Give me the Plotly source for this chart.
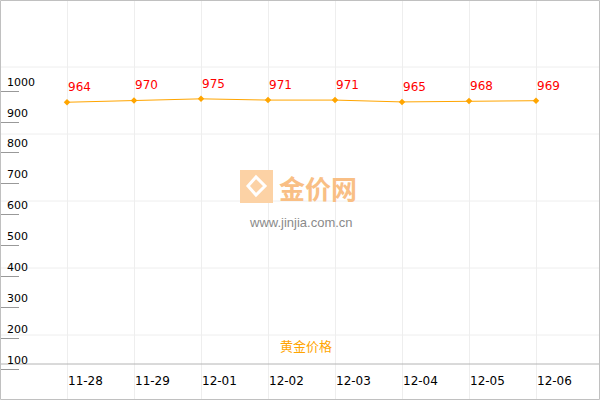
import plotly.graph_objects as go

dates = ["11-28", "11-29", "12-01", "12-02", "12-03", "12-04", "12-05", "12-06"]
prices = [964, 970, 975, 971, 971, 965, 968, 969]
y_ticks = [100, 200, 300, 400, 500, 600, 700, 800, 900, 1000]
series_name = "黄金价格"

W, H = 600, 400
xs = list(range(len(dates)))

fig = go.Figure()
fig.add_trace(go.Scatter(
    x=xs, y=prices, mode="lines+markers",
    line=dict(color="#FFA500", width=1),
    marker=dict(color="#FFA500", size=5, symbol="diamond"),
    hoverinfo="skip", showlegend=False,
))

ann = []
for i, (d, p) in enumerate(zip(dates, prices)):
    ann.append(dict(x=i, y=p, xref="x", yref="y", text=str(p), showarrow=False,
                    xanchor="left", yanchor="middle", yshift=15, xshift=-1,
                    font=dict(family="DejaVu Sans", size=12, color="#FF0000")))
    ann.append(dict(x=i, y=1 - 381 / H, xref="x", yref="paper", text=d, showarrow=False,
                    xanchor="left", yanchor="middle", xshift=-1,
                    font=dict(family="DejaVu Sans", size=12, color="#000000")))
for v in y_ticks:
    ann.append(dict(x=5 / W, y=v, xref="paper", yref="y", text=str(v), showarrow=False,
                    xanchor="left", yanchor="middle", yshift=9, xshift=0,
                    font=dict(family="DejaVu Sans", size=11, color="#000000")))

# legend label
ann.append(dict(x=306 / W, y=1 - 345 / H, xref="paper", yref="paper", text=series_name,
                showarrow=False, xanchor="center", yanchor="middle",
                font=dict(family="Noto Sans CJK SC", size=13, color="#FFA500")))
# watermark
ann.append(dict(x=318 / W, y=1 - 187 / H, xref="paper", yref="paper", text="<b>金价网</b>",
                showarrow=False, xanchor="center", yanchor="middle",
                font=dict(family="Noto Sans CJK SC", size=26, color="#F9BF85")))
ann.append(dict(x=301 / W, y=1 - 222 / H, xref="paper", yref="paper", text="www.jinjia.com.cn",
                showarrow=False, xanchor="center", yanchor="middle",
                font=dict(family="Liberation Sans", size=13, color="#8a8a8a")))

shapes = []
for py in [67, 134, 201, 268, 335]:
    shapes.append(dict(type="line", xref="paper", yref="paper", x0=0, x1=1,
                       y0=1 - py / H, y1=1 - py / H, line=dict(color="#EEEEEE", width=1), layer="below"))
# x axis line
shapes.append(dict(type="line", xref="paper", yref="paper", x0=0, x1=1,
                   y0=1 - 364 / H, y1=1 - 364 / H, line=dict(color="#B4B4B4", width=1)))
# logo
shapes.append(dict(type="rect", xref="paper", yref="paper", x0=240 / W, x1=273 / W,
                   y0=1 - 203 / H, y1=1 - 170 / H, fillcolor="#FCD2A5", line=dict(width=0),
                   layer="above"))
shapes.append(dict(type="path", xref="paper", yref="paper",
                   path="M {a},{b} L {c},{d} L {e},{f} L {g},{h} Z".format(
                       a=248 / W, b=1 - 186 / H, c=256 / W, d=1 - 177 / H,
                       e=265 / W, f=1 - 186 / H, g=256 / W, h=1 - 195 / H),
                   fillcolor="rgba(0,0,0,0)", line=dict(color="white", width=3)))
# border
shapes.append(dict(type="rect", xref="paper", yref="paper", x0=0.5 / W, x1=599.5 / W,
                   y0=0.5 / H, y1=399.5 / H, line=dict(color="#C0C0C0", width=1)))

fig.update_layout(
    width=W, height=H, margin=dict(l=0, r=0, t=0, b=0),
    paper_bgcolor="white", plot_bgcolor="white",
    xaxis=dict(range=[-1, (W - 67) / 67], tickvals=xs, showticklabels=False,
               showgrid=True, gridcolor="#EEEEEE", gridwidth=1, zeroline=False,
               showline=False, fixedrange=True),
    yaxis=dict(range=[0, 1295], tickvals=y_ticks, showticklabels=False,
               ticks="inside", ticklen=19, tickcolor="#999999", tickwidth=1,
               showgrid=False, zeroline=False, showline=False, fixedrange=True),
    annotations=ann, shapes=shapes, showlegend=False,
)
fig.write_html("out.html", config={"displayModeBar": False},
               post_script="document.body.style.margin='0';document.body.style.overflow='hidden';")
